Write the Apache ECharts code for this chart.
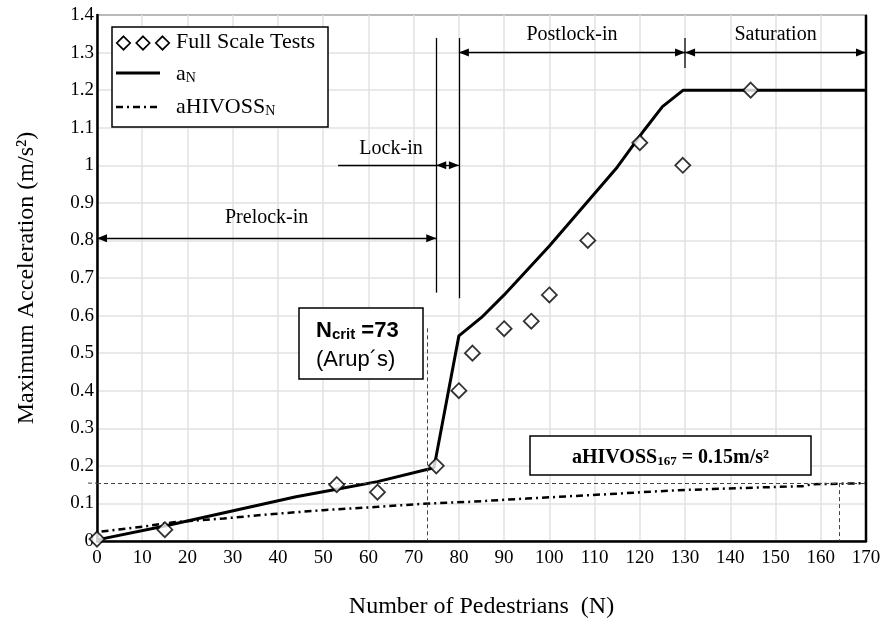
<!DOCTYPE html>
<html>
<head>
<meta charset="utf-8">
<script src="https://cdn.jsdelivr.net/npm/echarts@6/dist/echarts.min.js"></script>
<style>
  html, body { margin: 0; padding: 0; background: #fff; }
  #chart { width: 891px; height: 626px; }
</style>
</head>
<body>
<div id="chart"></div>
<script>
// full scale tests (diamonds)
var testN   = [0, 15, 53, 62, 75, 80, 83, 90, 96, 100, 108.5, 120, 129.5, 144.5];
var testAcc = [0.005, 0.03, 0.15, 0.13, 0.20, 0.40, 0.50, 0.565, 0.585, 0.655, 0.80, 1.06, 1.0, 1.2];

// a_N curve
var aN_N   = [0, 15, 44, 53, 62, 74.5, 80, 85, 90, 95, 100, 105, 110, 115, 121, 125, 129.6, 170];
var aN_acc = [0.003, 0.04, 0.118, 0.138, 0.158, 0.195, 0.546, 0.595, 0.655, 0.72, 0.785, 0.855, 0.925, 0.995, 1.094, 1.156, 1.2, 1.2];

// aHIVOSS_N curve
var hiv_N   = [1, 10, 17, 28, 39, 50, 62, 72, 82, 95, 112, 128, 145, 156, 158, 170];
var hiv_acc = [0.025, 0.038, 0.05, 0.06, 0.072, 0.082, 0.091, 0.099, 0.104, 0.113, 0.124, 0.135, 0.142, 0.146, 0.151, 0.154];

// axis ranges
var xRange = [0, 170, 10];
var yRange = [0, 1.4, 0.1];

// phase limits and reference values
var nPrelock = 75, nLock = 80, nSat = 130;
var nCrit = 73, accCrit = 0.566;
var hivRef = 0.154, hivRefN = 164;

var serif = 'Liberation Serif';
var sans = 'Liberation Sans';

function pairs(xs, ys) {
  return xs.map(function (x, i) { return [x, ys[i]]; });
}

function seg(x1, y1, x2, y2, style, s1, s2) {
  return [
    { coord: [x1, y1], symbol: s1 || 'none', lineStyle: style },
    { coord: [x2, y2], symbol: s2 || 'none' }
  ];
}

var thin = { color: '#000', width: 1.3, type: 'solid' };
var arrowLine = { color: '#000', width: 1.3, type: 'solid' };
var dashed = { color: '#444', width: 1, type: [4, 3] };

var chart = echarts.init(document.getElementById('chart'));

var option = {
  animation: false,
  grid: { left: 97, right: 25, top: 15, bottom: 85, show: true, borderColor: '#000', borderWidth: 1.5 },
  xAxis: {
    type: 'value', min: xRange[0], max: xRange[1], interval: xRange[2],
    name: 'Number of Pedestrians  (N)', nameLocation: 'middle', nameGap: 54,
    nameTextStyle: { fontFamily: serif, fontSize: 24, color: '#000' },
    axisLine: { onZero: false, lineStyle: { color: '#000', width: 2.5 } },
    axisTick: { show: false },
    axisLabel: { fontFamily: serif, fontSize: 19, color: '#000', margin: 8 },
    splitLine: { lineStyle: { color: '#e2e2e2', width: 1.5 } }
  },
  yAxis: {
    type: 'value', min: yRange[0], max: yRange[1], interval: yRange[2],
    name: 'Maximum Acceleration (m/s²)', nameLocation: 'middle', nameGap: 58,
    nameTextStyle: { fontFamily: serif, fontSize: 24, color: '#000' },
    axisLine: { onZero: false, lineStyle: { color: '#000', width: 2.5 } },
    axisTick: { show: false },
    axisLabel: { fontFamily: serif, fontSize: 19, color: '#000', margin: 3 },
    splitLine: { lineStyle: { color: '#e2e2e2', width: 1.5 } }
  },
  series: [
    {
      name: 'aHIVOSS_N', type: 'line', data: pairs(hiv_N, hiv_acc),
      symbol: 'none', silent: true,
      lineStyle: { color: '#000', width: 2.5, type: [7, 4, 2, 4] }
    },
    {
      name: 'a_N', type: 'line', data: pairs(aN_N, aN_acc),
      symbol: 'none', silent: true,
      lineStyle: { color: '#000', width: 3 },
      markLine: {
        silent: true, animation: false,
        symbolSize: [8, 10], symbolOffset: [[0, '50%'], [0, '50%']],
        label: { show: false },
        data: [
          // phase boundaries
          seg(nPrelock, 1.339, nPrelock, 0.661, thin),
          seg(nLock, 1.339, nLock, 0.646, thin),
          seg(nSat, 1.339, nSat, 1.259, { color: '#555', width: 2, type: 'solid' }),
          // arrows
          seg(0, 0.806, nPrelock, 0.806, arrowLine, 'triangle', 'triangle'),
          seg(53.3, 1.0, nPrelock, 1.0, arrowLine),
          seg(nPrelock, 1.0, nLock, 1.0, arrowLine, 'triangle', 'triangle'),
          seg(nLock, 1.3, nSat, 1.3, arrowLine, 'triangle', 'triangle'),
          seg(nSat, 1.3, xRange[1], 1.3, arrowLine, 'triangle', 'triangle'),
          // reference lines
          seg(nCrit, accCrit, nCrit, 0, dashed),
          seg(0, hivRef, xRange[1], hivRef, dashed),
          seg(hivRefN, hivRef, hivRefN, 0, dashed)
        ]
      }
    },
    {
      name: 'Full Scale Tests', type: 'scatter', data: pairs(testN, testAcc),
      symbol: 'diamond', symbolSize: 15, silent: true, z: 5,
      itemStyle: { color: '#fff', borderColor: '#000', borderWidth: 1.8 }
    }
  ]
};

chart.setOption(option);

function P(x, y) { return chart.convertToPixel({ gridIndex: 0 }, [x, y]); }

function label(text, x, y) {
  var p = P(x, y);
  return {
    type: 'text', z: 20, silent: true,
    style: { x: p[0], y: p[1], text: text, align: 'center', verticalAlign: 'middle',
      fontFamily: serif, fontSize: 20, fill: '#000' }
  };
}

function diamond(cx, cy, r) {
  return {
    type: 'polygon', z: 20, silent: true,
    shape: { points: [[cx, cy - r], [cx + r, cy], [cx, cy + r], [cx - r, cy]] },
    style: { fill: '#fff', stroke: '#000', lineWidth: 1.7 }
  };
}

var legendRich = {
  t: { fontFamily: serif, fontSize: 22, lineHeight: 26, verticalAlign: 'bottom' },
  s: { fontFamily: serif, fontSize: 14, lineHeight: 12, verticalAlign: 'bottom' }
};

var hivPix = P(0, hivRef);
var rTop = P(xRange[1], yRange[1]);
var rBot = P(xRange[1], yRange[0]);

var graphics = [
  // heavier right frame
  { type: 'line', z: 10, silent: true, shape: { x1: rTop[0], y1: rTop[1], x2: rBot[0], y2: rBot[1] },
    style: { stroke: '#000', lineWidth: 2.5 } },

  // legend
  { type: 'rect', z: 15, silent: true, shape: { x: 112, y: 27, width: 216, height: 100 },
    style: { fill: '#fff', stroke: '#000', lineWidth: 1.5 } },
  diamond(123.5, 43, 6.7), diamond(143, 43, 6.7), diamond(162.5, 43, 6.7),
  { type: 'text', z: 20, silent: true,
    style: { x: 176, y: 42, text: 'Full Scale Tests', verticalAlign: 'middle',
      fontFamily: serif, fontSize: 22, fill: '#000' } },
  { type: 'line', z: 20, silent: true, shape: { x1: 116, y1: 73, x2: 160, y2: 73 },
    style: { stroke: '#000', lineWidth: 3 } },
  { type: 'text', z: 20, silent: true,
    style: { x: 176, y: 72, text: '{t|a}{s|N}', verticalAlign: 'middle', rich: legendRich, fill: '#000' } },
  { type: 'line', z: 20, silent: true, shape: { x1: 116, y1: 107, x2: 160, y2: 107 },
    style: { stroke: '#000', lineWidth: 2.5, lineDash: [7, 4, 2, 4] } },
  { type: 'text', z: 20, silent: true,
    style: { x: 176, y: 105, text: '{t|aHIVOSS}{s|N}', verticalAlign: 'middle', rich: legendRich, fill: '#000' } },

  // phase labels
  label('Prelock-in', 37.5, 0.86),
  label('Lock-in', 65, 1.043),
  label('Postlock-in', 105, 1.347),
  label('Saturation', 150, 1.347),

  // dashed reference continues left of axis
  { type: 'line', z: 20, silent: true, shape: { x1: 88, y1: hivPix[1], x2: hivPix[0], y2: hivPix[1] },
    style: { stroke: '#444', lineWidth: 1, lineDash: [4, 3] } },

  // N_crit box
  { type: 'rect', z: 15, silent: true, shape: { x: 299, y: 308, width: 124, height: 71 },
    style: { fill: '#fff', stroke: '#000', lineWidth: 1.5 } },
  { type: 'text', z: 20, silent: true,
    style: { x: 316, y: 329, text: '{b|N}{s|crit}{b| =73}', verticalAlign: 'middle', fill: '#000',
      rich: {
        b: { fontFamily: sans, fontSize: 22, fontWeight: 'bold', lineHeight: 26, verticalAlign: 'bottom' },
        s: { fontFamily: sans, fontSize: 15, fontWeight: 'bold', lineHeight: 10, verticalAlign: 'bottom' }
      } } },
  { type: 'text', z: 20, silent: true,
    style: { x: 316, y: 360, text: '(Arup´s)', verticalAlign: 'middle',
      fontFamily: sans, fontSize: 22, fill: '#000' } },

  // aHIVOSS_167 box
  { type: 'rect', z: 15, silent: true, shape: { x: 530, y: 436, width: 281, height: 39 },
    style: { fill: '#fff', stroke: '#000', lineWidth: 1.5 } },
  { type: 'text', z: 20, silent: true,
    style: { x: 670.5, y: 456, text: '{b|aHIVOSS}{s|167}{b| = 0.15m/s²}', align: 'center', verticalAlign: 'middle', fill: '#000',
      rich: {
        b: { fontFamily: serif, fontSize: 20, fontWeight: 'bold', lineHeight: 24, verticalAlign: 'bottom' },
        s: { fontFamily: serif, fontSize: 13, fontWeight: 'bold', lineHeight: 10, verticalAlign: 'bottom' }
      } } }
];

chart.setOption({ graphic: graphics });
</script>
</body>
</html>
